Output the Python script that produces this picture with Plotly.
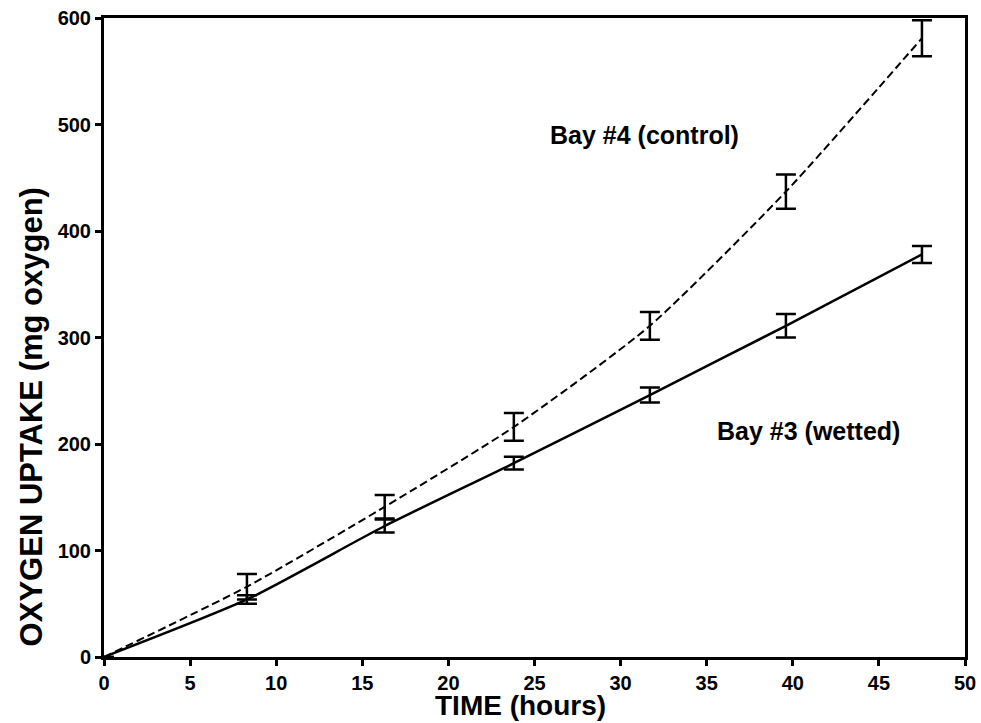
import plotly.graph_objects as go

time_h = [0, 8.3, 16.3, 23.8, 31.7, 39.6, 47.5]
control = [0, 66, 141, 216, 311, 437, 581]
control_err = [0, 12, 11, 13, 13, 16, 17]
wetted = [0, 54, 123, 182, 246, 311, 378]
wetted_err = [0, 4, 6, 6, 7, 11, 8]

x_ticks = [0, 5, 10, 15, 20, 25, 30, 35, 40, 45, 50]
y_ticks = [0, 100, 200, 300, 400, 500, 600]

font_fam = "Liberation Sans, Arial, sans-serif"

fig = go.Figure()
fig.add_trace(go.Scatter(
    x=time_h, y=control, mode="lines",
    line=dict(color="black", width=2, dash="8px,4px", shape="spline", smoothing=0.6),
    error_y=dict(type="data", array=control_err, color="black", thickness=2.5, width=10),
    showlegend=False))
fig.add_trace(go.Scatter(
    x=time_h, y=wetted, mode="lines",
    line=dict(color="black", width=2.5, shape="spline", smoothing=0.6),
    error_y=dict(type="data", array=wetted_err, color="black", thickness=2.5, width=10),
    showlegend=False))

fig.add_annotation(x=31.4, y=490, text="Bay #4 (control)", showarrow=False,
                   font=dict(family=font_fam, size=25, color="black", weight="bold"))
fig.add_annotation(x=40.9, y=212, text="Bay #3 (wetted)", showarrow=False,
                   font=dict(family=font_fam, size=25, color="black", weight="bold"))

# axis titles placed as annotations for exact positioning
fig.add_annotation(x=24.2, xref="x", y=0, yref="paper", yanchor="middle", yshift=-48,
                   text="TIME (hours)", showarrow=False,
                   font=dict(family=font_fam, size=28, color="black", weight="bold"))
fig.add_annotation(x=0, xref="paper", xanchor="center", xshift=-73, y=225, yref="y",
                   text="OXYGEN UPTAKE (mg oxygen)", textangle=-90, showarrow=False,
                   font=dict(family=font_fam, size=31, color="black", weight="bold"))

axis_common = dict(showgrid=False, zeroline=False, showline=True, linecolor="black",
                   linewidth=3, mirror=True, ticks="outside", ticklen=6, tickwidth=2.5,
                   tickcolor="black", automargin=False, ticklabeloverflow="allow",
                   tickfont=dict(family=font_fam, size=20, color="black", weight="bold"))

fig.update_layout(
    width=981, height=723,
    margin=dict(l=104, r=16, t=18, b=66),
    paper_bgcolor="white", plot_bgcolor="white",
    xaxis=dict(range=[0, 50], tickvals=x_ticks, **axis_common),
    yaxis=dict(range=[0, 600], tickvals=y_ticks, **axis_common),
)
fig.write_html("out.html", config={"displayModeBar": False},
               post_script="document.body.style.margin='0';document.body.style.overflow='hidden';")
